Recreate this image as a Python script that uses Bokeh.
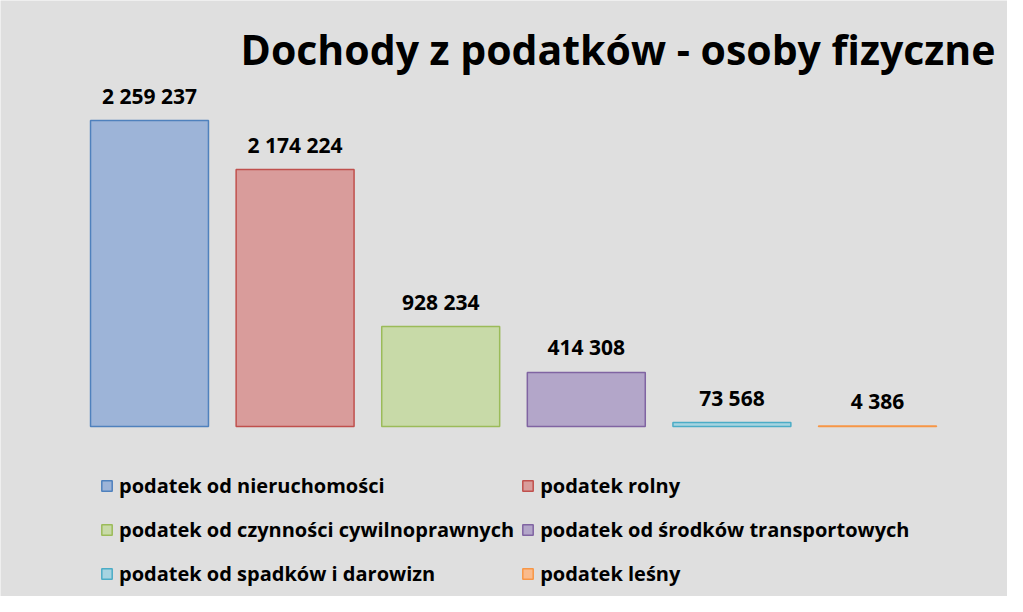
from bokeh.plotting import figure
from bokeh.models import ColumnDataSource, Legend, LegendItem, Label, Range1d
from bokeh.core.properties import value
from bokeh.embed import file_html
from bokeh.resources import INLINE

# ---- data ----
categories = ["podatek od nieruchomości", "podatek rolny",
              "podatek od czynności cywilnoprawnych", "podatek od środków transportowych",
              "podatek od spadków i darowizn", "podatek leśny"]
values = [2259237, 2174224, 928234, 414308, 73568, 4386]
# bar lengths as drawn in the reference (the picture's bars are not proportional to the labels)
bar_heights = [2259237, 1897000, 738000, 399000, 29500, 4386]
labels = ["2 259 237", "2 174 224", "928 234", "414 308", "73 568", "4 386"]
fill_colors = ["#9db4d8", "#d99c9b", "#c8daa8", "#b3a6c9", "#a6d4e1", "#fabb8c"]
line_colors = ["#4f81bd", "#c0504d", "#9bbb59", "#8064a2", "#4bacc6", "#f79646"]
title_text = "Dochody z podatków - osoby fizyczne"

W, H = 1007, 596
FONT = "Open Sans"

p = figure(width=W, height=H, output_backend="svg", toolbar_location=None,
           x_axis_type=None, y_axis_type=None, min_border=0,
           background_fill_color="#dfdfdf", border_fill_color="#dfdfdf",
           outline_line_color=None)
p.xgrid.visible = False
p.ygrid.visible = False

# layout of ranges: slot pitch ~145.6px, baseline at 426px from top
pitch = 145.6
x0 = 149.0
p.x_range = Range1d(-x0 / pitch, (W - x0) / pitch)
upp = 2259237 / 306.0
base = 426.0
p.y_range = Range1d(-(H - base) * upp, base * upp)

idx = list(range(len(categories)))
src = ColumnDataSource(dict(x=idx, top=bar_heights, val=values, lab=labels,
                            fill=fill_colors, line=line_colors, cat=categories))

r = p.vbar(x="x", top="top", bottom=0, width=0.81, source=src,
           fill_color="fill", line_color="line", line_width=1.5)

p.text(x="x", y="top", text="lab", source=src, text_align="center",
       text_baseline="middle", y_offset=-25, text_font=value(FONT),
       text_font_style="bold", text_font_size="21px", text_color="#000000")

title = Label(x=995, y=H - 48, x_units="screen", y_units="screen", text=title_text,
              text_align="right", text_baseline="alphabetic",
              text_font=FONT, text_font_style="bold", text_font_size="41px",
              text_color="#000000")
p.add_layout(title)

items = [LegendItem(label=c, renderers=[r], index=i) for i, c in enumerate(categories)]
legend = Legend(items=items, location=(100, 4), orientation="horizontal", ncols=2,
                label_text_font=FONT, label_text_font_style="bold",
                label_text_font_size="20px", label_text_color="#000000",
                glyph_width=13, glyph_height=13, label_standoff=6,
                label_height=37, spacing=7, padding=0, margin=0,
                border_line_color=None, background_fill_alpha=0)
p.add_layout(legend)

open("out.html", "w").write(file_html(p, INLINE))
